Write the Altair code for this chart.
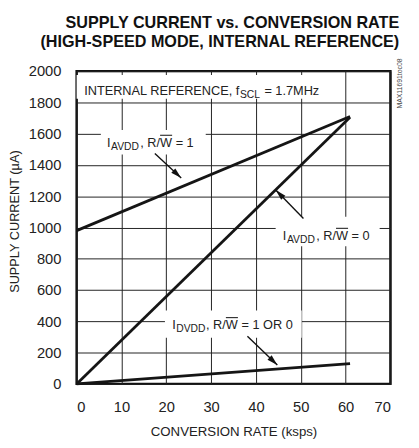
import math
import altair as alt
import pandas as pd

# ---------------- data ----------------
rate_ksps = [0, 61]
avdd_rw1 = [980, 1710]      # I_AVDD, R/W = 1
avdd_rw0 = [0, 1705]        # I_AVDD, R/W = 0
dvdd = [0, 130]             # I_DVDD, R/W = 1 OR 0

x_ticks = [0, 10, 20, 30, 40, 50, 60, 70]
y_ticks = [0, 200, 400, 600, 800, 1000, 1200, 1400, 1600, 1800, 2000]

title_lines = ["SUPPLY CURRENT vs. CONVERSION RATE",
               "(HIGH-SPEED MODE, INTERNAL REFERENCE)"]
x_title = "CONVERSION RATE (ksps)"
y_title = "SUPPLY CURRENT (\u00b5A)"

# label text pieces: (main before subscript, subscript, main after subscript)
label_pre = ["INTERNAL REFERENCE, f", "I", "I", "I"]
label_sub = ["SCL", "AVDD", "AVDD", "DVDD"]
label_post = ["= 1.7MHz", ", R/W = 1", ", R/W = 0", ", R/W = 1 OR 0"]
# anchor (start of subscript, on the main baseline) in data units
label_ax = [36.3, 7.55, 46.8, 22.1]
label_ay = [1847, 1517, 922, 351]
label_overline = [False, True, True, True]

# white boxes behind labels (data units): x, x2, y, y2
box_x = [0.0, 5.4, 44.4, 19.7]
box_x2 = [57.1, 28.8, 67.6, 50.2]
box_y = [1975, 1624, 1068, 470]
box_y2 = [1824, 1467, 880, 295]

# arrows: start and tip (data units)
arr_x = [17.45, 50.6, 38.1]
arr_y = [1473, 1058, 305]
arr_tx = [23.33, 44.42, 44.77]
arr_ty = [1317, 1240, 121]

code_text = "MAX11691toc08"

# ---------------- layout ----------------
W, H = 320, 319
XMAX, YMAX = 70, 2000
PX = W / XMAX
PY = H / YMAX
FONT = "Liberation Sans, Arial, sans-serif"
MAIN_FS = 13
SUB_FS = 10.5

xaxis = alt.Axis(values=x_ticks, format="d", grid=True, ticks=False, domain=False,
                 labelFont=FONT, labelFontSize=15, labelPadding=16,
                 labelOverlap=False, labelColor="#222", title=x_title,
                 titleFont=FONT, titleFontSize=13.5, titleFontWeight="normal",
                 titlePadding=11, titleColor="#222", gridColor="#222",
                 gridWidth=1)
yaxis = alt.Axis(values=y_ticks, format="d", grid=True, ticks=False, domain=False,
                 labelFont=FONT, labelFontSize=15, labelPadding=16,
                 labelOverlap=False, labelColor="#222", title=y_title,
                 titleFont=FONT, titleFontSize=13, titleFontWeight="normal",
                 titlePadding=7, titleY=153, titleColor="#222",
                 gridColor="#222", gridWidth=1)
xs = alt.Scale(domain=[0, XMAX], nice=False)
ys = alt.Scale(domain=[0, YMAX], nice=False)


def X(f):
    return alt.X(f, type="quantitative", scale=xs, axis=xaxis)


def Y(f):
    return alt.Y(f, type="quantitative", scale=ys, axis=yaxis)


lines = pd.DataFrame({
    "series": ["rw1"] * 2 + ["rw0"] * 2 + ["dvdd"] * 2,
    "rate": rate_ksps * 3,
    "current": avdd_rw1 + avdd_rw0 + dvdd,
})

line_layer = alt.Chart(lines).mark_line(color="#151515", strokeWidth=2.8).encode(
    x=X("rate"), y=Y("current"), detail="series:N",
)

boxes = pd.DataFrame({"x": box_x, "x2": box_x2, "y": box_y, "y2": box_y2})
box_layer = alt.Chart(boxes).mark_rect(color="white").encode(
    x=X("x"), x2="x2:Q", y=Y("y"), y2="y2:Q",
)

# arrows
arrows = pd.DataFrame({"x": arr_x, "y": arr_y, "tx": arr_tx, "ty": arr_ty})
arrows["angle"] = [
    (math.degrees(math.atan2((tx - x) * PX, (ty - y) * PY)) + 360) % 360
    for x, y, tx, ty in zip(arr_x, arr_y, arr_tx, arr_ty)
]
arrow_rule = alt.Chart(arrows).mark_rule(color="#111", strokeWidth=1.4).encode(
    x=X("x"), y=Y("y"), x2="tx:Q", y2="ty:Q",
)
head_path = "M0,0L-0.55,2L0.55,2Z"
arrow_head = alt.Chart(arrows).mark_point(
    shape=head_path, filled=True, color="#111", size=121, opacity=1, strokeWidth=0
).encode(
    x=X("tx"), y=Y("ty"), angle=alt.Angle("angle:Q", scale=None),
)

# label text pieces (Arial-metric widths of the subscripts, px)
sub_w = {"SCL": 1.945 * SUB_FS, "AVDD": 2.778 * SUB_FS, "DVDD": 2.833 * SUB_FS}
pre_df = pd.DataFrame({"x": label_ax, "y": label_ay, "t": label_pre})
sub_df = pd.DataFrame({
    "x": [a + 0.6 / PX for a in label_ax],
    "y": [b - 3.0 / PY for b in label_ay],
    "t": label_sub,
})
post_start = [a + (sub_w[s] + (0.278 * MAIN_FS + 1.5 if s == "SCL" else 1.2)) / PX
              for a, s in zip(label_ax, label_sub)]
post_df = pd.DataFrame({"x": post_start, "y": label_ay, "t": label_post})

txt = dict(font=FONT, fontSize=MAIN_FS, color="#222", baseline="alphabetic")
pre_layer = alt.Chart(pre_df).mark_text(align="right", **txt).encode(
    x=X("x"), y=Y("y"), text="t:N")
post_layer = alt.Chart(post_df).mark_text(align="left", **txt).encode(
    x=X("x"), y=Y("y"), text="t:N")
sub_layer = alt.Chart(sub_df).mark_text(
    align="left", font=FONT, fontSize=SUB_FS, color="#222", baseline="alphabetic"
).encode(x=X("x"), y=Y("y"), text="t:N")

# overline above W (", R/" then "W" in Arial metrics)
ov_a = 1.556 * MAIN_FS
ov_b = ov_a + 0.944 * MAIN_FS
ov_x = [p + ov_a / PX for p, o in zip(post_start, label_overline) if o]
ov_x2 = [p + ov_b / PX for p, o in zip(post_start, label_overline) if o]
ov_y = [b + 11.6 / PY for b, o in zip(label_ay, label_overline) if o]
ov_df = pd.DataFrame({"x": ov_x, "x2": ov_x2, "y": ov_y})
ov_layer = alt.Chart(ov_df).mark_rule(color="#222", strokeWidth=1.1).encode(
    x=X("x"), x2="x2:Q", y=Y("y"))

code_df = pd.DataFrame({"x": [72.1], "y": [1921], "t": [code_text]})
code_layer = alt.Chart(code_df).mark_text(
    angle=270, align="center", baseline="middle", font=FONT, fontSize=7,
    color="#444"
).encode(x=X("x"), y=Y("y"), text="t:N")

chart = alt.layer(
    box_layer, line_layer, arrow_rule, arrow_head,
    pre_layer, sub_layer, post_layer, ov_layer, code_layer,
).properties(
    width=W, height=H,
    padding={"left": 70, "top": 60, "right": 21, "bottom": 60},
    autosize=alt.AutoSizeParams(type="none"),
    title=alt.TitleParams(
        text=title_lines, font=FONT, fontSize=16.5, fontWeight="bold",
        anchor="end", frame="group", dx=9, offset=8, lineHeight=19,
        color="#111",
    ),
).configure_view(stroke="#111", strokeWidth=2.5)

chart.save("out.html", embed_options={"renderer": "svg", "actions": False})
